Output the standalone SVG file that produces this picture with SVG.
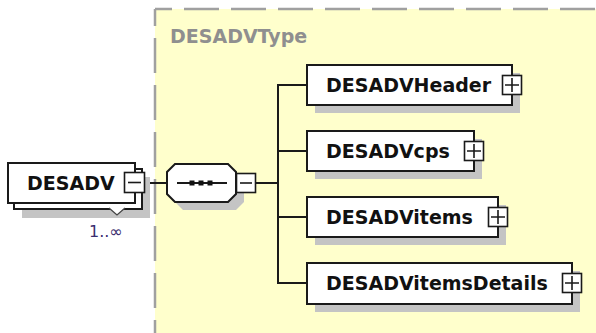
<svg xmlns="http://www.w3.org/2000/svg" width="596" height="333" viewBox="0 0 596 333">
<style>
.box{fill:#fff;stroke:#1a1a1a;stroke-width:2}
.shadow{fill:#c4c4c4}
.btn{fill:#fff;stroke:#1a1a1a;stroke-width:1.6}
.sign{stroke:#1a1a1a;stroke-width:1.6;fill:none}
.lbl{font-family:"DejaVu Sans",sans-serif;font-weight:bold;font-size:19px;fill:#111}
.conn{stroke:#1a1a1a;stroke-width:2;fill:none}
.dash{stroke:#a0a0a0;stroke-width:2.5;fill:none;stroke-dasharray:35 12;stroke-dashoffset:18}
</style>
<rect width="596" height="333" fill="#fff"/>
<g id="DESADVType">
<rect x="155" y="9" width="441" height="324" fill="#ffffcc"/>
<line class="dash" x1="155" y1="9" x2="596" y2="9"/>
<line class="dash" x1="155" y1="9" x2="155" y2="333"/>
<text x="170" y="43" style="font-family:'DejaVu Sans',sans-serif;font-weight:bold;font-size:19px;fill:#8f8f8f">DESADVType</text>
</g>
<g id="connectors">
<line class="conn" x1="145" y1="183" x2="167" y2="183"/>
<line class="conn" x1="256" y1="183" x2="278" y2="183"/>
<polyline class="conn" points="307,85 278,85 278,283 307,283"/>
<line class="conn" x1="278" y1="151" x2="307" y2="151"/>
<line class="conn" x1="278" y1="217" x2="307" y2="217"/>
</g>
<g id="DESADV">
<rect class="shadow" x="22" y="177" width="128" height="41"/>
<rect class="box" x="14" y="169" width="128" height="40"/>
<rect class="box" x="8" y="163" width="127" height="40"/>
<text class="lbl" x="27" y="190">DESADV</text>
<rect class="btn" x="124.5" y="172.5" width="20" height="20"/>
<line class="sign" x1="128" y1="182.5" x2="141" y2="182.5"/>
<polyline points="109,208 117,215 125,208" fill="#fff" stroke="#444" stroke-width="1.3"/>
<text x="89" y="237" style="font-family:'DejaVu Sans',sans-serif;font-size:16px;fill:#3a2d6e">1..∞</text>
</g>
<g id="sequence">
<path class="shadow" d="M183,172 H236 L244,180 V202 L236,210 H183 L175,202 V180 Z"/>
<path class="box" d="M175,164 H228 L236,172 V194 L228,202 H175 L167,194 V172 Z"/>
<line class="sign" x1="177" y1="183" x2="227" y2="183" style="stroke-width:2"/>
<rect x="189.5" y="180.5" width="5" height="5" fill="#111"/>
<rect x="198.5" y="180.5" width="5" height="5" fill="#111"/>
<rect x="207.5" y="180.5" width="5" height="5" fill="#111"/>
<rect class="btn" x="236.5" y="173.5" width="19" height="19"/>
<line class="sign" x1="240" y1="183" x2="252" y2="183"/>
</g>
<g id="DESADVHeader">
<rect class="shadow" x="315" y="73" width="205" height="40"/>
<rect class="box" x="307" y="65" width="205" height="40"/>
<text class="lbl" x="326" y="92">DESADVHeader</text>
<rect class="btn" x="502.5" y="75.5" width="19" height="19"/>
<path class="sign" d="M505,85 H519 M512,78 V92"/>
</g>
<g id="DESADVcps">
<rect class="shadow" x="315" y="139" width="167" height="40"/>
<rect class="box" x="307" y="131" width="167" height="40"/>
<text class="lbl" x="326" y="158">DESADVcps</text>
<rect class="btn" x="464.5" y="141.5" width="19" height="19"/>
<path class="sign" d="M467,151 H481 M474,144 V158"/>
</g>
<g id="DESADVitems">
<rect class="shadow" x="315" y="205" width="191" height="40"/>
<rect class="box" x="307" y="197" width="191" height="40"/>
<text class="lbl" x="326" y="224">DESADVitems</text>
<rect class="btn" x="488.5" y="207.5" width="19" height="19"/>
<path class="sign" d="M491,217 H505 M498,210 V224"/>
</g>
<g id="DESADVitemsDetails">
<rect class="shadow" x="315" y="271" width="265" height="41"/>
<rect class="box" x="307" y="263" width="265" height="41"/>
<text class="lbl" x="326" y="290">DESADVitemsDetails</text>
<rect class="btn" x="562.5" y="273.5" width="19" height="19"/>
<path class="sign" d="M565,283 H579 M572,276 V290"/>
</g>
</svg>
